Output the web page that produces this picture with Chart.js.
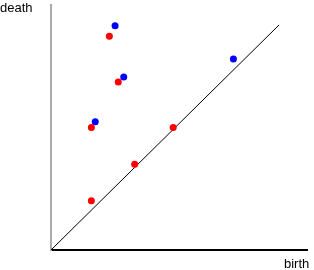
<!DOCTYPE html>
<html>
<head>
<meta charset="utf-8">
<script src="https://cdn.jsdelivr.net/npm/chart.js@4/dist/chart.umd.min.js"></script>
<style>
html,body{margin:0;padding:0;background:#fff;}
#wrap{position:relative;width:314px;height:270px;}
canvas{display:block;}
.lbl{position:absolute;font-family:"Liberation Sans",Arial,sans-serif;font-size:13px;color:#000;line-height:1;}
</style>
</head>
<body>
<div id="wrap">
<canvas id="c" width="314" height="270"></canvas>
<div class="lbl" style="left:0px;top:1px;">death</div>
<div class="lbl" style="left:284px;top:257px;">birth</div>
</div>
<script>
// Persistence diagram data (birth, death)
const blueBirth = [0.281, 0.319, 0.194, 0.800];
const blueDeath = [0.997, 0.769, 0.570, 0.849];
const redBirth  = [0.256, 0.295, 0.177, 0.536, 0.367, 0.177];
const redDeath  = [0.950, 0.747, 0.544, 0.544, 0.381, 0.219];
const diagX = [0, 1];
const diagY = [0, 1];
const axisLabels = ['birth', 'death'];

const toPts = (xs, ys) => xs.map((x, i) => ({x: x, y: ys[i]}));

new Chart(document.getElementById('c'), {
  type: 'scatter',
  data: {
    datasets: [
      {
        data: toPts(diagX, diagY),
        showLine: true,
        borderColor: '#000',
        borderWidth: 1,
        pointRadius: 0,
        order: 3
      },
      {
        data: toPts(redBirth, redDeath),
        backgroundColor: '#ff0000',
        borderColor: '#ff0000',
        borderWidth: 0,
        pointRadius: 3.5,
        order: 1
      },
      {
        data: toPts(blueBirth, blueDeath),
        backgroundColor: '#0000ff',
        borderColor: '#0000ff',
        borderWidth: 0,
        pointRadius: 3.5,
        order: 2
      }
    ]
  },
  options: {
    responsive: false,
    animation: false,
    events: [],
    layout: {padding: {left: 51, right: 7, top: 5, bottom: 20}},
    plugins: {legend: {display: false}, tooltip: {enabled: false}},
    scales: {
      x: {
        type: 'linear', min: 0, max: 1.1228,
        ticks: {display: false},
        grid: {display: false, drawTicks: false},
        border: {display: true, color: '#000', width: 2}
      },
      y: {
        type: 'linear', min: 0, max: 1.0889,
        ticks: {display: false},
        grid: {display: false, drawTicks: false},
        border: {display: true, color: '#aaaaaa', width: 2}
      }
    }
  }
});
</script>
</body>
</html>
